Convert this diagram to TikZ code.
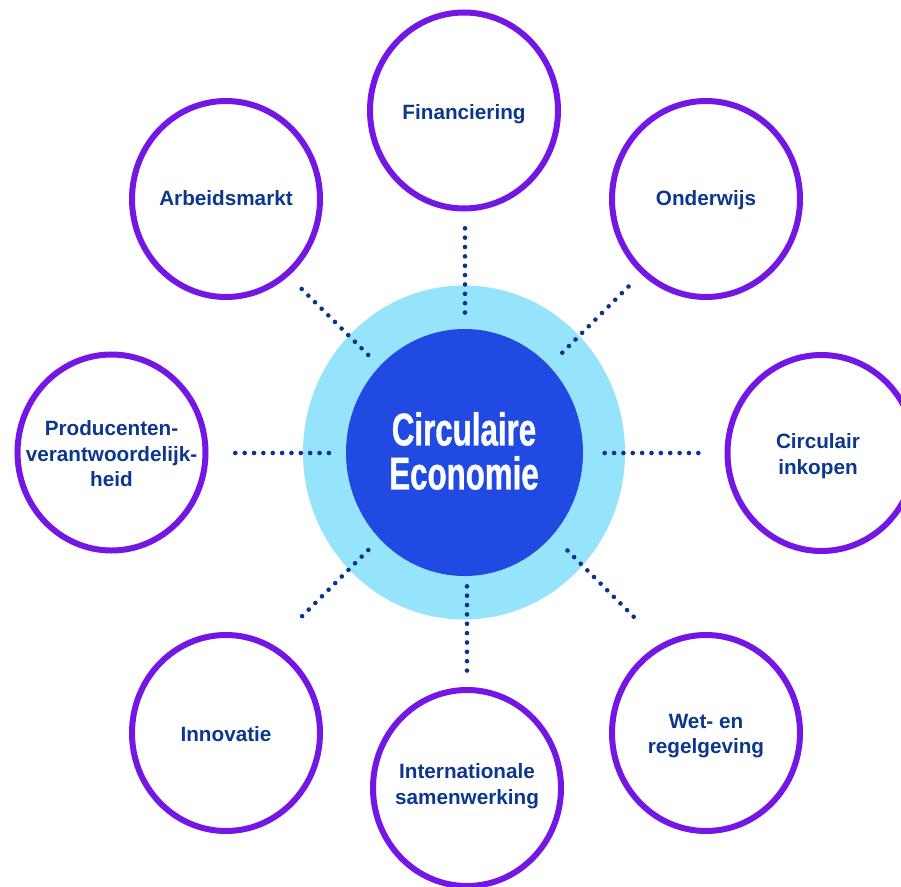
\documentclass[tikz,border=0pt]{standalone}
\usepackage{fontspec}
\setmainfont{Liberation Sans}
\newfontfamily\condfont[FakeStretch=0.68,FakeBold=0.8]{Liberation Sans}
\usetikzlibrary{shapes.geometric}
\definecolor{ringpurple}{RGB}{116,22,228}
\definecolor{navytext}{RGB}{12,55,140}
\definecolor{dotnavy}{RGB}{8,52,140}
\definecolor{lightring}{RGB}{150,228,252}
\definecolor{coreblue}{RGB}{32,74,226}
\begin{document}
\begin{tikzpicture}[x=1pt,y=-1pt,
  topic/.style={ellipse, draw=ringpurple, line width=6pt, fill=white,
    minimum width=188pt, minimum height=196pt, inner sep=0pt},
  topictext/.style={inner sep=0pt, text=navytext, align=center,
    font=\bfseries\fontsize{20.7}{25.5}\selectfont},
  dotline/.style={draw=dotnavy, line width=4.6pt, line cap=round,
    dash pattern=on 0pt off 9.36pt}]
\useasboundingbox (0,0) rectangle (901,886);
% centre rings
\node[ellipse, fill=lightring, minimum width=322pt, minimum height=334pt, inner sep=0pt] (ring) at (464,452.5) {};
% connector end points
\coordinate (t1) at (465,228.3);   \coordinate (t2) at (465,312.7);
\coordinate (l1) at (235.3,453);   \coordinate (l2) at (329,453);
\coordinate (r1) at (604.7,453);   \coordinate (r2) at (698.3,453);
\coordinate (b1) at (467,586.3);   \coordinate (b2) at (467,670.7);
\coordinate (ul1) at (301.7,289);  \coordinate (ul2) at (368.3,355);
\coordinate (ur1) at (562.3,352.7);\coordinate (ur2) at (628.7,286.3);
\coordinate (ll1) at (368.3,550);  \coordinate (ll2) at (302,616.3);
\coordinate (lr1) at (567.5,550.5);\coordinate (lr2) at (633.8,616.8);
\draw[dotline] (t1) -- (t2);
\draw[dotline] (l1) -- (l2);
\draw[dotline] (r1) -- (r2);
\draw[dotline] (b1) -- (b2);
\draw[dotline] (ul1) -- (ul2);
\draw[dotline] (ur1) -- (ur2);
\draw[dotline] (ll1) -- (ll2);
\draw[dotline] (lr1) -- (lr2);
\node[ellipse, fill=coreblue, minimum width=237pt, minimum height=247pt, inner sep=0pt] (core) at (464.5,452.5) {};
\node[text=white, inner sep=0pt, align=center,
  font=\condfont\bfseries\fontsize{46}{44}\selectfont] (title) at (464,451) {Circulaire\\Economie};
% topic circles
\node[topic] (fin) at (464,110.5) {};
\node[topic] (arb) at (226,199) {};
\node[topic] (ond) at (706,199) {};
\node[topic] (pro) at (111.5,452.5) {};
\node[topic] (cir) at (821.5,453) {};
\node[topic] (inn) at (226,733) {};
\node[topic] (int) at (467,788) {};
\node[topic] (wet) at (706,733) {};
% topic texts
\node[topictext, anchor=base] (fintx) at (464,119) {Financiering};
\node[topictext, anchor=base] (arbtx) at (226,205.5) {Arbeidsmarkt};
\node[topictext, anchor=base] (ondtx) at (706,205.5) {Onderwijs};
\node[topictext, anchor=base] (inntx) at (226,741) {Innovatie};
\node[topictext, anchor=north] (protx) at (111.5,420.6) {Producenten-\\verantwoordelijk-\\heid};
\node[topictext, anchor=north] (cirtx) at (818,433.6) {Circulair\\inkopen};
\node[topictext, anchor=north] (inttx) at (467,763.6) {Internationale\\samenwerking};
\node[topictext, anchor=north] (wettx) at (706,713.6) {Wet- en\\regelgeving};
\end{tikzpicture}
\end{document}
